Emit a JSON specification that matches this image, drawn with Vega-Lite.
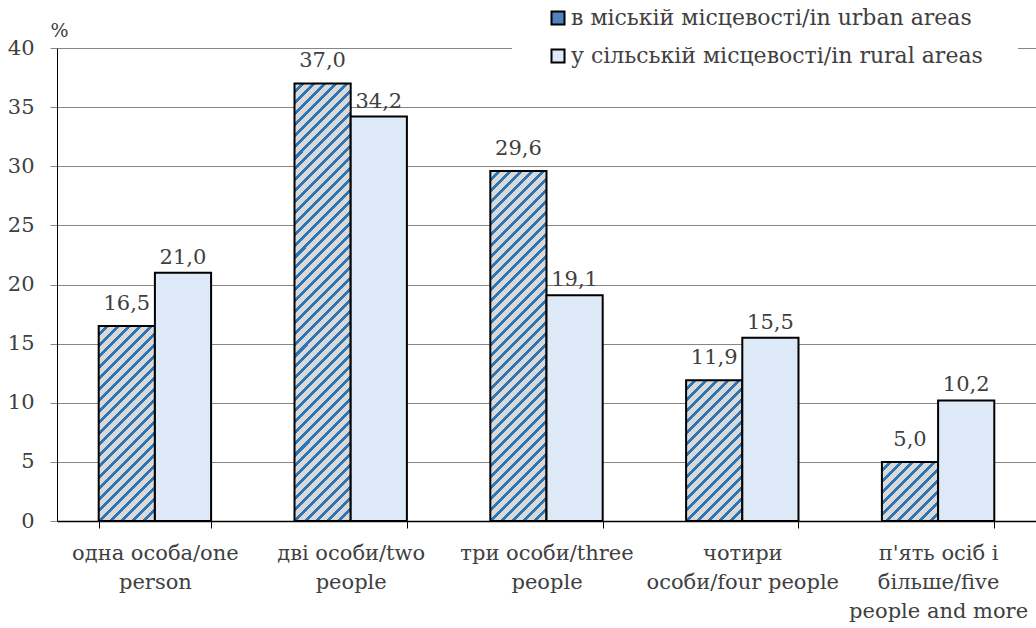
{
"$schema":"https://vega.github.io/schema/vega-lite/v6.json",
"width":979,"height":473,
"autosize":{"type":"none"},
"padding":{"left":57,"top":48,"right":0,"bottom":107},
"background":"white",
"config":{
 "locale":{"number":{"decimal":",","thousands":" ","grouping":[3],"currency":["",""]}},
 "view":{"stroke":null},
 "font":"DejaVu Serif"
},
"data":{"values":[
 {"cat":"одна особа/one person","series":"в міській місцевості/in urban areas","pct":16.5},
 {"cat":"одна особа/one person","series":"у сільській місцевості/in rural areas","pct":21.0},
 {"cat":"дві особи/two people","series":"в міській місцевості/in urban areas","pct":37.0},
 {"cat":"дві особи/two people","series":"у сільській місцевості/in rural areas","pct":34.2},
 {"cat":"три особи/three people","series":"в міській місцевості/in urban areas","pct":29.6},
 {"cat":"три особи/three people","series":"у сільській місцевості/in rural areas","pct":19.1},
 {"cat":"чотири особи/four people","series":"в міській місцевості/in urban areas","pct":11.9},
 {"cat":"чотири особи/four people","series":"у сільській місцевості/in rural areas","pct":15.5},
 {"cat":"п'ять осіб і більше/five people and more","series":"в міській місцевості/in urban areas","pct":5.0},
 {"cat":"п'ять осіб і більше/five people and more","series":"у сільській місцевості/in rural areas","pct":10.2}
]},
"encoding":{
 "x":{"field":"cat","type":"nominal","sort":null,
  "scale":{"paddingInner":0.426,"paddingOuter":0.213},
  "axis":{"title":null,"labelAngle":0,"labelFontSize":21,"labelColor":"#404040","labelLineHeight":29,"labelPadding":14,"labelLimit":0,"labelOverlap":false,"tickBand":"extent","tickSize":7,"tickColor":"#000","domainColor":"#000","domainWidth":1.5,
   "labelExpr":"datum.value==null?'':datum.value=='одна особа/one person'?['одна особа/one','person']:datum.value=='дві особи/two people'?['дві особи/two','people']:datum.value=='три особи/three people'?['три особи/three','people']:datum.value=='чотири особи/four people'?['чотири','особи/four people']:datum.value=='п\\'ять осіб і більше/five people and more'?[\"п'ять осіб і\",'більше/five','people and more']:''"}},
 "xOffset":{"field":"series","type":"nominal","scale":{"domain":["в міській місцевості/in urban areas","у сільській місцевості/in rural areas"],"paddingInner":0,"paddingOuter":0}},
 "y":{"field":"pct","type":"quantitative","scale":{"domain":[0,40]},
  "axis":{"values":[0,5,10,15,20,25,30,35,40],"format":"d","title":"%","titleAngle":0,"titleX":2,"titleY":-12,"titleAlign":"center","titleBaseline":"alphabetic","titleFontSize":19,"titleFontWeight":"normal","titleColor":"#404040","labelFontSize":21,"labelColor":"#404040","labelPadding":16,"tickSize":7,"tickColor":"#868686","domainColor":"#000","gridColor":"#868686"}}
},
"layer":[
 {"mark":{"type":"bar","stroke":"#000","strokeWidth":2},
  "encoding":{"fill":{"field":"series","type":"nominal",
   "scale":{"domain":["в міській місцевості/in urban areas","у сільській місцевості/in rural areas"],"range":["#4f82bf","#dde9f6"]},
   "legend":{"title":null,"orient":"none","legendX":455,"legendY":-76,"fillColor":"white","padding":35,"symbolType":"square","symbolSize":169,"symbolStrokeColor":"#000","symbolStrokeWidth":2,"labelFontSize":22,"labelColor":"#404040","labelOffset":2,"rowPadding":16,"labelLimit":0,"direction":"vertical"},
   "condition":[
    {"test":"datum.pct===16.5","value":{"gradient":"linear","x1":0,"y1":0,"x2":0.6748,"y2":2.3427,"stops":[
{"offset":0.0141,"color":"#d9d9d9"},{"offset":0.0141,"color":"#2e75b6"},{"offset":0.0222,"color":"#2e75b6"},{"offset":0.0222,"color":"#d9d9d9"},
{"offset":0.0363,"color":"#d9d9d9"},{"offset":0.0363,"color":"#2e75b6"},{"offset":0.0444,"color":"#2e75b6"},{"offset":0.0444,"color":"#d9d9d9"},
{"offset":0.0585,"color":"#d9d9d9"},{"offset":0.0585,"color":"#2e75b6"},{"offset":0.0667,"color":"#2e75b6"},{"offset":0.0667,"color":"#d9d9d9"},
{"offset":0.0808,"color":"#d9d9d9"},{"offset":0.0808,"color":"#2e75b6"},{"offset":0.0889,"color":"#2e75b6"},{"offset":0.0889,"color":"#d9d9d9"},
{"offset":0.1030,"color":"#d9d9d9"},{"offset":0.1030,"color":"#2e75b6"},{"offset":0.1111,"color":"#2e75b6"},{"offset":0.1111,"color":"#d9d9d9"},
{"offset":0.1252,"color":"#d9d9d9"},{"offset":0.1252,"color":"#2e75b6"},{"offset":0.1333,"color":"#2e75b6"},{"offset":0.1333,"color":"#d9d9d9"},
{"offset":0.1474,"color":"#d9d9d9"},{"offset":0.1474,"color":"#2e75b6"},{"offset":0.1556,"color":"#2e75b6"},{"offset":0.1556,"color":"#d9d9d9"},
{"offset":0.1697,"color":"#d9d9d9"},{"offset":0.1697,"color":"#2e75b6"},{"offset":0.1778,"color":"#2e75b6"},{"offset":0.1778,"color":"#d9d9d9"},
{"offset":0.1919,"color":"#d9d9d9"},{"offset":0.1919,"color":"#2e75b6"},{"offset":0.2,"color":"#2e75b6"},{"offset":0.2,"color":"#d9d9d9"},
{"offset":0.2141,"color":"#d9d9d9"},{"offset":0.2141,"color":"#2e75b6"},{"offset":0.2222,"color":"#2e75b6"},{"offset":0.2222,"color":"#d9d9d9"},
{"offset":0.2363,"color":"#d9d9d9"},{"offset":0.2363,"color":"#2e75b6"},{"offset":0.2444,"color":"#2e75b6"},{"offset":0.2444,"color":"#d9d9d9"},
{"offset":0.2585,"color":"#d9d9d9"},{"offset":0.2585,"color":"#2e75b6"},{"offset":0.2667,"color":"#2e75b6"},{"offset":0.2667,"color":"#d9d9d9"},
{"offset":0.2808,"color":"#d9d9d9"},{"offset":0.2808,"color":"#2e75b6"},{"offset":0.2889,"color":"#2e75b6"},{"offset":0.2889,"color":"#d9d9d9"},
{"offset":0.3030,"color":"#d9d9d9"},{"offset":0.3030,"color":"#2e75b6"},{"offset":0.3111,"color":"#2e75b6"},{"offset":0.3111,"color":"#d9d9d9"},
{"offset":0.3252,"color":"#d9d9d9"},{"offset":0.3252,"color":"#2e75b6"},{"offset":0.3333,"color":"#2e75b6"},{"offset":0.3333,"color":"#d9d9d9"},
{"offset":0.3474,"color":"#d9d9d9"},{"offset":0.3474,"color":"#2e75b6"},{"offset":0.3556,"color":"#2e75b6"},{"offset":0.3556,"color":"#d9d9d9"},
{"offset":0.3697,"color":"#d9d9d9"},{"offset":0.3697,"color":"#2e75b6"},{"offset":0.3778,"color":"#2e75b6"},{"offset":0.3778,"color":"#d9d9d9"},
{"offset":0.3919,"color":"#d9d9d9"},{"offset":0.3919,"color":"#2e75b6"},{"offset":0.4,"color":"#2e75b6"},{"offset":0.4,"color":"#d9d9d9"},
{"offset":0.4141,"color":"#d9d9d9"},{"offset":0.4141,"color":"#2e75b6"},{"offset":0.4222,"color":"#2e75b6"},{"offset":0.4222,"color":"#d9d9d9"},
{"offset":0.4363,"color":"#d9d9d9"},{"offset":0.4363,"color":"#2e75b6"},{"offset":0.4444,"color":"#2e75b6"},{"offset":0.4444,"color":"#d9d9d9"},
{"offset":0.4585,"color":"#d9d9d9"},{"offset":0.4585,"color":"#2e75b6"},{"offset":0.4667,"color":"#2e75b6"},{"offset":0.4667,"color":"#d9d9d9"},
{"offset":0.4808,"color":"#d9d9d9"},{"offset":0.4808,"color":"#2e75b6"},{"offset":0.4889,"color":"#2e75b6"},{"offset":0.4889,"color":"#d9d9d9"},
{"offset":0.5030,"color":"#d9d9d9"},{"offset":0.5030,"color":"#2e75b6"},{"offset":0.5111,"color":"#2e75b6"},{"offset":0.5111,"color":"#d9d9d9"}
    ]}},
    {"test":"datum.pct===37","value":{"gradient":"linear","x1":0,"y1":0,"x2":0.1430,"y2":1.1130,"stops":[
{"offset":0.0141,"color":"#d9d9d9"},{"offset":0.0141,"color":"#2e75b6"},{"offset":0.0222,"color":"#2e75b6"},{"offset":0.0222,"color":"#d9d9d9"},
{"offset":0.0363,"color":"#d9d9d9"},{"offset":0.0363,"color":"#2e75b6"},{"offset":0.0444,"color":"#2e75b6"},{"offset":0.0444,"color":"#d9d9d9"},
{"offset":0.0585,"color":"#d9d9d9"},{"offset":0.0585,"color":"#2e75b6"},{"offset":0.0667,"color":"#2e75b6"},{"offset":0.0667,"color":"#d9d9d9"},
{"offset":0.0808,"color":"#d9d9d9"},{"offset":0.0808,"color":"#2e75b6"},{"offset":0.0889,"color":"#2e75b6"},{"offset":0.0889,"color":"#d9d9d9"},
{"offset":0.1030,"color":"#d9d9d9"},{"offset":0.1030,"color":"#2e75b6"},{"offset":0.1111,"color":"#2e75b6"},{"offset":0.1111,"color":"#d9d9d9"},
{"offset":0.1252,"color":"#d9d9d9"},{"offset":0.1252,"color":"#2e75b6"},{"offset":0.1333,"color":"#2e75b6"},{"offset":0.1333,"color":"#d9d9d9"},
{"offset":0.1474,"color":"#d9d9d9"},{"offset":0.1474,"color":"#2e75b6"},{"offset":0.1556,"color":"#2e75b6"},{"offset":0.1556,"color":"#d9d9d9"},
{"offset":0.1697,"color":"#d9d9d9"},{"offset":0.1697,"color":"#2e75b6"},{"offset":0.1778,"color":"#2e75b6"},{"offset":0.1778,"color":"#d9d9d9"},
{"offset":0.1919,"color":"#d9d9d9"},{"offset":0.1919,"color":"#2e75b6"},{"offset":0.2,"color":"#2e75b6"},{"offset":0.2,"color":"#d9d9d9"},
{"offset":0.2141,"color":"#d9d9d9"},{"offset":0.2141,"color":"#2e75b6"},{"offset":0.2222,"color":"#2e75b6"},{"offset":0.2222,"color":"#d9d9d9"},
{"offset":0.2363,"color":"#d9d9d9"},{"offset":0.2363,"color":"#2e75b6"},{"offset":0.2444,"color":"#2e75b6"},{"offset":0.2444,"color":"#d9d9d9"},
{"offset":0.2585,"color":"#d9d9d9"},{"offset":0.2585,"color":"#2e75b6"},{"offset":0.2667,"color":"#2e75b6"},{"offset":0.2667,"color":"#d9d9d9"},
{"offset":0.2808,"color":"#d9d9d9"},{"offset":0.2808,"color":"#2e75b6"},{"offset":0.2889,"color":"#2e75b6"},{"offset":0.2889,"color":"#d9d9d9"},
{"offset":0.3030,"color":"#d9d9d9"},{"offset":0.3030,"color":"#2e75b6"},{"offset":0.3111,"color":"#2e75b6"},{"offset":0.3111,"color":"#d9d9d9"},
{"offset":0.3252,"color":"#d9d9d9"},{"offset":0.3252,"color":"#2e75b6"},{"offset":0.3333,"color":"#2e75b6"},{"offset":0.3333,"color":"#d9d9d9"},
{"offset":0.3474,"color":"#d9d9d9"},{"offset":0.3474,"color":"#2e75b6"},{"offset":0.3556,"color":"#2e75b6"},{"offset":0.3556,"color":"#d9d9d9"},
{"offset":0.3697,"color":"#d9d9d9"},{"offset":0.3697,"color":"#2e75b6"},{"offset":0.3778,"color":"#2e75b6"},{"offset":0.3778,"color":"#d9d9d9"},
{"offset":0.3919,"color":"#d9d9d9"},{"offset":0.3919,"color":"#2e75b6"},{"offset":0.4,"color":"#2e75b6"},{"offset":0.4,"color":"#d9d9d9"},
{"offset":0.4141,"color":"#d9d9d9"},{"offset":0.4141,"color":"#2e75b6"},{"offset":0.4222,"color":"#2e75b6"},{"offset":0.4222,"color":"#d9d9d9"},
{"offset":0.4363,"color":"#d9d9d9"},{"offset":0.4363,"color":"#2e75b6"},{"offset":0.4444,"color":"#2e75b6"},{"offset":0.4444,"color":"#d9d9d9"},
{"offset":0.4585,"color":"#d9d9d9"},{"offset":0.4585,"color":"#2e75b6"},{"offset":0.4667,"color":"#2e75b6"},{"offset":0.4667,"color":"#d9d9d9"},
{"offset":0.4808,"color":"#d9d9d9"},{"offset":0.4808,"color":"#2e75b6"},{"offset":0.4889,"color":"#2e75b6"},{"offset":0.4889,"color":"#d9d9d9"},
{"offset":0.5030,"color":"#d9d9d9"},{"offset":0.5030,"color":"#2e75b6"},{"offset":0.5111,"color":"#2e75b6"},{"offset":0.5111,"color":"#d9d9d9"},
{"offset":0.5252,"color":"#d9d9d9"},{"offset":0.5252,"color":"#2e75b6"},{"offset":0.5333,"color":"#2e75b6"},{"offset":0.5333,"color":"#d9d9d9"},
{"offset":0.5474,"color":"#d9d9d9"},{"offset":0.5474,"color":"#2e75b6"},{"offset":0.5556,"color":"#2e75b6"},{"offset":0.5556,"color":"#d9d9d9"},
{"offset":0.5697,"color":"#d9d9d9"},{"offset":0.5697,"color":"#2e75b6"},{"offset":0.5778,"color":"#2e75b6"},{"offset":0.5778,"color":"#d9d9d9"},
{"offset":0.5919,"color":"#d9d9d9"},{"offset":0.5919,"color":"#2e75b6"},{"offset":0.6,"color":"#2e75b6"},{"offset":0.6,"color":"#d9d9d9"},
{"offset":0.6141,"color":"#d9d9d9"},{"offset":0.6141,"color":"#2e75b6"},{"offset":0.6222,"color":"#2e75b6"},{"offset":0.6222,"color":"#d9d9d9"},
{"offset":0.6363,"color":"#d9d9d9"},{"offset":0.6363,"color":"#2e75b6"},{"offset":0.6444,"color":"#2e75b6"},{"offset":0.6444,"color":"#d9d9d9"},
{"offset":0.6585,"color":"#d9d9d9"},{"offset":0.6585,"color":"#2e75b6"},{"offset":0.6667,"color":"#2e75b6"},{"offset":0.6667,"color":"#d9d9d9"},
{"offset":0.6808,"color":"#d9d9d9"},{"offset":0.6808,"color":"#2e75b6"},{"offset":0.6889,"color":"#2e75b6"},{"offset":0.6889,"color":"#d9d9d9"},
{"offset":0.7030,"color":"#d9d9d9"},{"offset":0.7030,"color":"#2e75b6"},{"offset":0.7111,"color":"#2e75b6"},{"offset":0.7111,"color":"#d9d9d9"},
{"offset":0.7252,"color":"#d9d9d9"},{"offset":0.7252,"color":"#2e75b6"},{"offset":0.7333,"color":"#2e75b6"},{"offset":0.7333,"color":"#d9d9d9"},
{"offset":0.7474,"color":"#d9d9d9"},{"offset":0.7474,"color":"#2e75b6"},{"offset":0.7556,"color":"#2e75b6"},{"offset":0.7556,"color":"#d9d9d9"},
{"offset":0.7697,"color":"#d9d9d9"},{"offset":0.7697,"color":"#2e75b6"},{"offset":0.7778,"color":"#2e75b6"},{"offset":0.7778,"color":"#d9d9d9"},
{"offset":0.7919,"color":"#d9d9d9"},{"offset":0.7919,"color":"#2e75b6"},{"offset":0.8,"color":"#2e75b6"},{"offset":0.8,"color":"#d9d9d9"},
{"offset":0.8141,"color":"#d9d9d9"},{"offset":0.8141,"color":"#2e75b6"},{"offset":0.8222,"color":"#2e75b6"},{"offset":0.8222,"color":"#d9d9d9"},
{"offset":0.8363,"color":"#d9d9d9"},{"offset":0.8363,"color":"#2e75b6"},{"offset":0.8444,"color":"#2e75b6"},{"offset":0.8444,"color":"#d9d9d9"},
{"offset":0.8585,"color":"#d9d9d9"},{"offset":0.8585,"color":"#2e75b6"},{"offset":0.8667,"color":"#2e75b6"},{"offset":0.8667,"color":"#d9d9d9"},
{"offset":0.8808,"color":"#d9d9d9"},{"offset":0.8808,"color":"#2e75b6"},{"offset":0.8889,"color":"#2e75b6"},{"offset":0.8889,"color":"#d9d9d9"},
{"offset":0.9030,"color":"#d9d9d9"},{"offset":0.9030,"color":"#2e75b6"},{"offset":0.9111,"color":"#2e75b6"},{"offset":0.9111,"color":"#d9d9d9"},
{"offset":0.9252,"color":"#d9d9d9"},{"offset":0.9252,"color":"#2e75b6"},{"offset":0.9333,"color":"#2e75b6"},{"offset":0.9333,"color":"#d9d9d9"},
{"offset":0.9474,"color":"#d9d9d9"},{"offset":0.9474,"color":"#2e75b6"},{"offset":0.9556,"color":"#2e75b6"},{"offset":0.9556,"color":"#d9d9d9"},
{"offset":0.9697,"color":"#d9d9d9"},{"offset":0.9697,"color":"#2e75b6"},{"offset":0.9778,"color":"#2e75b6"},{"offset":0.9778,"color":"#d9d9d9"},
{"offset":0.9919,"color":"#d9d9d9"},{"offset":0.9919,"color":"#2e75b6"},{"offset":1,"color":"#2e75b6"}
    ]}},
    {"test":"datum.pct===29.6","value":{"gradient":"linear","x1":0,"y1":0,"x2":0.2214,"y2":1.3787,"stops":[
{"offset":0.0141,"color":"#d9d9d9"},{"offset":0.0141,"color":"#2e75b6"},{"offset":0.0222,"color":"#2e75b6"},{"offset":0.0222,"color":"#d9d9d9"},
{"offset":0.0363,"color":"#d9d9d9"},{"offset":0.0363,"color":"#2e75b6"},{"offset":0.0444,"color":"#2e75b6"},{"offset":0.0444,"color":"#d9d9d9"},
{"offset":0.0585,"color":"#d9d9d9"},{"offset":0.0585,"color":"#2e75b6"},{"offset":0.0667,"color":"#2e75b6"},{"offset":0.0667,"color":"#d9d9d9"},
{"offset":0.0808,"color":"#d9d9d9"},{"offset":0.0808,"color":"#2e75b6"},{"offset":0.0889,"color":"#2e75b6"},{"offset":0.0889,"color":"#d9d9d9"},
{"offset":0.1030,"color":"#d9d9d9"},{"offset":0.1030,"color":"#2e75b6"},{"offset":0.1111,"color":"#2e75b6"},{"offset":0.1111,"color":"#d9d9d9"},
{"offset":0.1252,"color":"#d9d9d9"},{"offset":0.1252,"color":"#2e75b6"},{"offset":0.1333,"color":"#2e75b6"},{"offset":0.1333,"color":"#d9d9d9"},
{"offset":0.1474,"color":"#d9d9d9"},{"offset":0.1474,"color":"#2e75b6"},{"offset":0.1556,"color":"#2e75b6"},{"offset":0.1556,"color":"#d9d9d9"},
{"offset":0.1697,"color":"#d9d9d9"},{"offset":0.1697,"color":"#2e75b6"},{"offset":0.1778,"color":"#2e75b6"},{"offset":0.1778,"color":"#d9d9d9"},
{"offset":0.1919,"color":"#d9d9d9"},{"offset":0.1919,"color":"#2e75b6"},{"offset":0.2,"color":"#2e75b6"},{"offset":0.2,"color":"#d9d9d9"},
{"offset":0.2141,"color":"#d9d9d9"},{"offset":0.2141,"color":"#2e75b6"},{"offset":0.2222,"color":"#2e75b6"},{"offset":0.2222,"color":"#d9d9d9"},
{"offset":0.2363,"color":"#d9d9d9"},{"offset":0.2363,"color":"#2e75b6"},{"offset":0.2444,"color":"#2e75b6"},{"offset":0.2444,"color":"#d9d9d9"},
{"offset":0.2585,"color":"#d9d9d9"},{"offset":0.2585,"color":"#2e75b6"},{"offset":0.2667,"color":"#2e75b6"},{"offset":0.2667,"color":"#d9d9d9"},
{"offset":0.2808,"color":"#d9d9d9"},{"offset":0.2808,"color":"#2e75b6"},{"offset":0.2889,"color":"#2e75b6"},{"offset":0.2889,"color":"#d9d9d9"},
{"offset":0.3030,"color":"#d9d9d9"},{"offset":0.3030,"color":"#2e75b6"},{"offset":0.3111,"color":"#2e75b6"},{"offset":0.3111,"color":"#d9d9d9"},
{"offset":0.3252,"color":"#d9d9d9"},{"offset":0.3252,"color":"#2e75b6"},{"offset":0.3333,"color":"#2e75b6"},{"offset":0.3333,"color":"#d9d9d9"},
{"offset":0.3474,"color":"#d9d9d9"},{"offset":0.3474,"color":"#2e75b6"},{"offset":0.3556,"color":"#2e75b6"},{"offset":0.3556,"color":"#d9d9d9"},
{"offset":0.3697,"color":"#d9d9d9"},{"offset":0.3697,"color":"#2e75b6"},{"offset":0.3778,"color":"#2e75b6"},{"offset":0.3778,"color":"#d9d9d9"},
{"offset":0.3919,"color":"#d9d9d9"},{"offset":0.3919,"color":"#2e75b6"},{"offset":0.4,"color":"#2e75b6"},{"offset":0.4,"color":"#d9d9d9"},
{"offset":0.4141,"color":"#d9d9d9"},{"offset":0.4141,"color":"#2e75b6"},{"offset":0.4222,"color":"#2e75b6"},{"offset":0.4222,"color":"#d9d9d9"},
{"offset":0.4363,"color":"#d9d9d9"},{"offset":0.4363,"color":"#2e75b6"},{"offset":0.4444,"color":"#2e75b6"},{"offset":0.4444,"color":"#d9d9d9"},
{"offset":0.4585,"color":"#d9d9d9"},{"offset":0.4585,"color":"#2e75b6"},{"offset":0.4667,"color":"#2e75b6"},{"offset":0.4667,"color":"#d9d9d9"},
{"offset":0.4808,"color":"#d9d9d9"},{"offset":0.4808,"color":"#2e75b6"},{"offset":0.4889,"color":"#2e75b6"},{"offset":0.4889,"color":"#d9d9d9"},
{"offset":0.5030,"color":"#d9d9d9"},{"offset":0.5030,"color":"#2e75b6"},{"offset":0.5111,"color":"#2e75b6"},{"offset":0.5111,"color":"#d9d9d9"},
{"offset":0.5252,"color":"#d9d9d9"},{"offset":0.5252,"color":"#2e75b6"},{"offset":0.5333,"color":"#2e75b6"},{"offset":0.5333,"color":"#d9d9d9"},
{"offset":0.5474,"color":"#d9d9d9"},{"offset":0.5474,"color":"#2e75b6"},{"offset":0.5556,"color":"#2e75b6"},{"offset":0.5556,"color":"#d9d9d9"},
{"offset":0.5697,"color":"#d9d9d9"},{"offset":0.5697,"color":"#2e75b6"},{"offset":0.5778,"color":"#2e75b6"},{"offset":0.5778,"color":"#d9d9d9"},
{"offset":0.5919,"color":"#d9d9d9"},{"offset":0.5919,"color":"#2e75b6"},{"offset":0.6,"color":"#2e75b6"},{"offset":0.6,"color":"#d9d9d9"},
{"offset":0.6141,"color":"#d9d9d9"},{"offset":0.6141,"color":"#2e75b6"},{"offset":0.6222,"color":"#2e75b6"},{"offset":0.6222,"color":"#d9d9d9"},
{"offset":0.6363,"color":"#d9d9d9"},{"offset":0.6363,"color":"#2e75b6"},{"offset":0.6444,"color":"#2e75b6"},{"offset":0.6444,"color":"#d9d9d9"},
{"offset":0.6585,"color":"#d9d9d9"},{"offset":0.6585,"color":"#2e75b6"},{"offset":0.6667,"color":"#2e75b6"},{"offset":0.6667,"color":"#d9d9d9"},
{"offset":0.6808,"color":"#d9d9d9"},{"offset":0.6808,"color":"#2e75b6"},{"offset":0.6889,"color":"#2e75b6"},{"offset":0.6889,"color":"#d9d9d9"},
{"offset":0.7030,"color":"#d9d9d9"},{"offset":0.7030,"color":"#2e75b6"},{"offset":0.7111,"color":"#2e75b6"},{"offset":0.7111,"color":"#d9d9d9"},
{"offset":0.7252,"color":"#d9d9d9"},{"offset":0.7252,"color":"#2e75b6"},{"offset":0.7333,"color":"#2e75b6"},{"offset":0.7333,"color":"#d9d9d9"},
{"offset":0.7474,"color":"#d9d9d9"},{"offset":0.7474,"color":"#2e75b6"},{"offset":0.7556,"color":"#2e75b6"},{"offset":0.7556,"color":"#d9d9d9"},
{"offset":0.7697,"color":"#d9d9d9"},{"offset":0.7697,"color":"#2e75b6"},{"offset":0.7778,"color":"#2e75b6"},{"offset":0.7778,"color":"#d9d9d9"},
{"offset":0.7919,"color":"#d9d9d9"},{"offset":0.7919,"color":"#2e75b6"},{"offset":0.8,"color":"#2e75b6"},{"offset":0.8,"color":"#d9d9d9"},
{"offset":0.8141,"color":"#d9d9d9"},{"offset":0.8141,"color":"#2e75b6"},{"offset":0.8222,"color":"#2e75b6"},{"offset":0.8222,"color":"#d9d9d9"}
    ]}},
    {"test":"datum.pct===11.9","value":{"gradient":"linear","x1":0,"y1":0,"x2":1.2116,"y2":3.0338,"stops":[
{"offset":0.0141,"color":"#d9d9d9"},{"offset":0.0141,"color":"#2e75b6"},{"offset":0.0222,"color":"#2e75b6"},{"offset":0.0222,"color":"#d9d9d9"},
{"offset":0.0363,"color":"#d9d9d9"},{"offset":0.0363,"color":"#2e75b6"},{"offset":0.0444,"color":"#2e75b6"},{"offset":0.0444,"color":"#d9d9d9"},
{"offset":0.0585,"color":"#d9d9d9"},{"offset":0.0585,"color":"#2e75b6"},{"offset":0.0667,"color":"#2e75b6"},{"offset":0.0667,"color":"#d9d9d9"},
{"offset":0.0808,"color":"#d9d9d9"},{"offset":0.0808,"color":"#2e75b6"},{"offset":0.0889,"color":"#2e75b6"},{"offset":0.0889,"color":"#d9d9d9"},
{"offset":0.1030,"color":"#d9d9d9"},{"offset":0.1030,"color":"#2e75b6"},{"offset":0.1111,"color":"#2e75b6"},{"offset":0.1111,"color":"#d9d9d9"},
{"offset":0.1252,"color":"#d9d9d9"},{"offset":0.1252,"color":"#2e75b6"},{"offset":0.1333,"color":"#2e75b6"},{"offset":0.1333,"color":"#d9d9d9"},
{"offset":0.1474,"color":"#d9d9d9"},{"offset":0.1474,"color":"#2e75b6"},{"offset":0.1556,"color":"#2e75b6"},{"offset":0.1556,"color":"#d9d9d9"},
{"offset":0.1697,"color":"#d9d9d9"},{"offset":0.1697,"color":"#2e75b6"},{"offset":0.1778,"color":"#2e75b6"},{"offset":0.1778,"color":"#d9d9d9"},
{"offset":0.1919,"color":"#d9d9d9"},{"offset":0.1919,"color":"#2e75b6"},{"offset":0.2,"color":"#2e75b6"},{"offset":0.2,"color":"#d9d9d9"},
{"offset":0.2141,"color":"#d9d9d9"},{"offset":0.2141,"color":"#2e75b6"},{"offset":0.2222,"color":"#2e75b6"},{"offset":0.2222,"color":"#d9d9d9"},
{"offset":0.2363,"color":"#d9d9d9"},{"offset":0.2363,"color":"#2e75b6"},{"offset":0.2444,"color":"#2e75b6"},{"offset":0.2444,"color":"#d9d9d9"},
{"offset":0.2585,"color":"#d9d9d9"},{"offset":0.2585,"color":"#2e75b6"},{"offset":0.2667,"color":"#2e75b6"},{"offset":0.2667,"color":"#d9d9d9"},
{"offset":0.2808,"color":"#d9d9d9"},{"offset":0.2808,"color":"#2e75b6"},{"offset":0.2889,"color":"#2e75b6"},{"offset":0.2889,"color":"#d9d9d9"},
{"offset":0.3030,"color":"#d9d9d9"},{"offset":0.3030,"color":"#2e75b6"},{"offset":0.3111,"color":"#2e75b6"},{"offset":0.3111,"color":"#d9d9d9"},
{"offset":0.3252,"color":"#d9d9d9"},{"offset":0.3252,"color":"#2e75b6"},{"offset":0.3333,"color":"#2e75b6"},{"offset":0.3333,"color":"#d9d9d9"},
{"offset":0.3474,"color":"#d9d9d9"},{"offset":0.3474,"color":"#2e75b6"},{"offset":0.3556,"color":"#2e75b6"},{"offset":0.3556,"color":"#d9d9d9"},
{"offset":0.3697,"color":"#d9d9d9"},{"offset":0.3697,"color":"#2e75b6"},{"offset":0.3778,"color":"#2e75b6"},{"offset":0.3778,"color":"#d9d9d9"},
{"offset":0.3919,"color":"#d9d9d9"},{"offset":0.3919,"color":"#2e75b6"},{"offset":0.4,"color":"#2e75b6"},{"offset":0.4,"color":"#d9d9d9"}
    ]}},
    {"test":"datum.pct===5","value":{"gradient":"linear","x1":0,"y1":0,"x2":4.1803,"y2":4.3983,"stops":[
{"offset":0.0141,"color":"#d9d9d9"},{"offset":0.0141,"color":"#2e75b6"},{"offset":0.0222,"color":"#2e75b6"},{"offset":0.0222,"color":"#d9d9d9"},
{"offset":0.0363,"color":"#d9d9d9"},{"offset":0.0363,"color":"#2e75b6"},{"offset":0.0444,"color":"#2e75b6"},{"offset":0.0444,"color":"#d9d9d9"},
{"offset":0.0585,"color":"#d9d9d9"},{"offset":0.0585,"color":"#2e75b6"},{"offset":0.0667,"color":"#2e75b6"},{"offset":0.0667,"color":"#d9d9d9"},
{"offset":0.0808,"color":"#d9d9d9"},{"offset":0.0808,"color":"#2e75b6"},{"offset":0.0889,"color":"#2e75b6"},{"offset":0.0889,"color":"#d9d9d9"},
{"offset":0.1030,"color":"#d9d9d9"},{"offset":0.1030,"color":"#2e75b6"},{"offset":0.1111,"color":"#2e75b6"},{"offset":0.1111,"color":"#d9d9d9"},
{"offset":0.1252,"color":"#d9d9d9"},{"offset":0.1252,"color":"#2e75b6"},{"offset":0.1333,"color":"#2e75b6"},{"offset":0.1333,"color":"#d9d9d9"},
{"offset":0.1474,"color":"#d9d9d9"},{"offset":0.1474,"color":"#2e75b6"},{"offset":0.1556,"color":"#2e75b6"},{"offset":0.1556,"color":"#d9d9d9"},
{"offset":0.1697,"color":"#d9d9d9"},{"offset":0.1697,"color":"#2e75b6"},{"offset":0.1778,"color":"#2e75b6"},{"offset":0.1778,"color":"#d9d9d9"},
{"offset":0.1919,"color":"#d9d9d9"},{"offset":0.1919,"color":"#2e75b6"},{"offset":0.2,"color":"#2e75b6"},{"offset":0.2,"color":"#d9d9d9"},
{"offset":0.2141,"color":"#d9d9d9"},{"offset":0.2141,"color":"#2e75b6"},{"offset":0.2222,"color":"#2e75b6"},{"offset":0.2222,"color":"#d9d9d9"}
    ]}}
   ]}}},
 {"transform":[{"filter":"datum.series==='в міській місцевості/in urban areas'"}],
  "mark":{"type":"text","baseline":"alphabetic","dy":-16,"fontSize":21,"color":"#404040"},
  "encoding":{"text":{"field":"pct","type":"quantitative","format":".1f"}}},
 {"transform":[{"filter":"datum.series==='у сільській місцевості/in rural areas'"}],
  "mark":{"type":"text","baseline":"alphabetic","dy":-9,"fontSize":21,"color":"#404040"},
  "encoding":{"text":{"field":"pct","type":"quantitative","format":".1f"}}}
]
}
